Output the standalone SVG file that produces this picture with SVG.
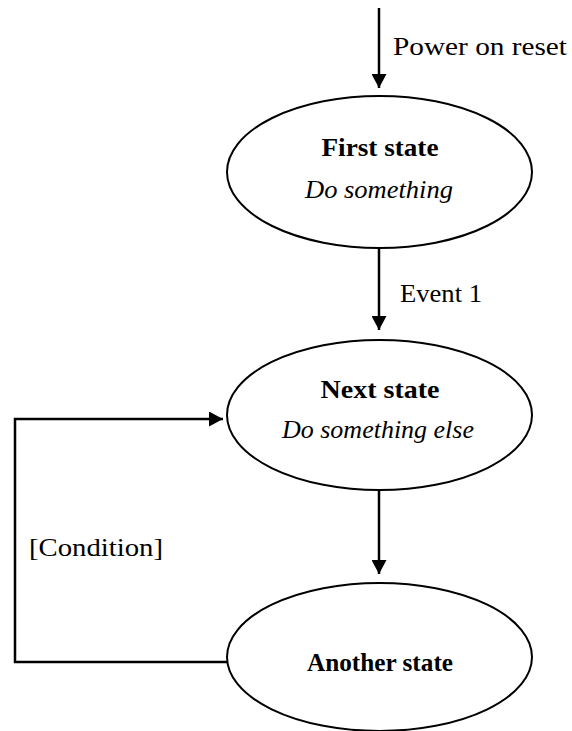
<svg xmlns="http://www.w3.org/2000/svg" width="572" height="731" viewBox="0 0 572 731">
<defs>
<style>
.node ellipse{fill:#fff;stroke:#000;stroke-width:2}
text{font-family:"Liberation Serif","DejaVu Serif",serif;font-size:26px;fill:#000}
.b{font-weight:bold;text-anchor:middle}
.i{font-style:italic;text-anchor:middle}
.conn line,.conn polyline{fill:none;stroke:#000;stroke-width:2.5}
</style>
<marker id="ah" markerWidth="6" markerHeight="6" refX="5.6" refY="3" orient="auto" markerUnits="strokeWidth">
<path d="M0,0 L5.6,3 L0,6 Z" fill="#000"/>
</marker>
</defs>
<g id="connectors" class="conn">
<line x1="379" y1="8" x2="379" y2="88" marker-end="url(#ah)"/>
<line x1="379" y1="248" x2="379" y2="330" marker-end="url(#ah)"/>
<line x1="379" y1="490" x2="379" y2="574" marker-end="url(#ah)"/>
<polyline points="227,662 15,662 15,419 223,419" marker-end="url(#ah)"/>
</g>
<g id="label-power"><text x="393" y="55" textLength="174" lengthAdjust="spacingAndGlyphs">Power on reset</text></g>
<g id="label-event"><text x="400" y="302" textLength="82" lengthAdjust="spacingAndGlyphs">Event 1</text></g>
<g id="label-condition"><text x="29" y="556" textLength="134" lengthAdjust="spacingAndGlyphs">[Condition]</text></g>
<g id="first-state" class="node">
<ellipse cx="379.5" cy="172" rx="152.5" ry="76"/>
<text class="b" x="380" y="156" textLength="117" lengthAdjust="spacingAndGlyphs">First state</text>
<text class="i" x="379" y="198" textLength="148" lengthAdjust="spacingAndGlyphs">Do something</text>
</g>
<g id="next-state" class="node">
<ellipse cx="379.5" cy="415" rx="152.5" ry="75"/>
<text class="b" x="380" y="398" textLength="119" lengthAdjust="spacingAndGlyphs">Next state</text>
<text class="i" x="378" y="438" textLength="192" lengthAdjust="spacingAndGlyphs">Do something else</text>
</g>
<g id="another-state" class="node">
<ellipse cx="379.5" cy="657" rx="152.5" ry="74"/>
<text class="b" x="380" y="671" textLength="146" lengthAdjust="spacingAndGlyphs">Another state</text>
</g>
</svg>
